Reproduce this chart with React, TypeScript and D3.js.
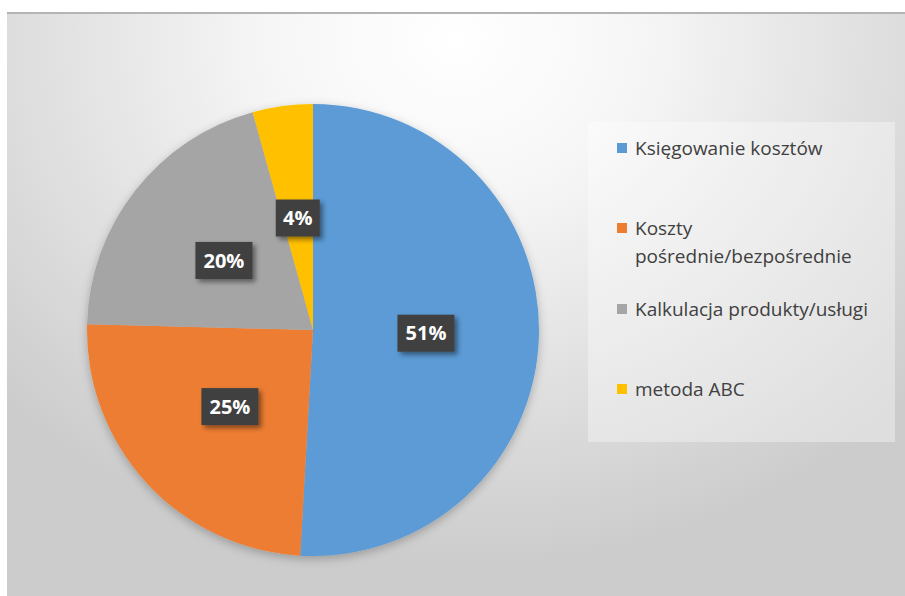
import React from "react";
import * as d3 from "d3";

const categories = [
  "Księgowanie kosztów",
  "Koszty pośrednie/bezpośrednie",
  "Kalkulacja produkty/usługi",
  "metoda ABC",
];
const values = [50.9, 24.5, 20.3, 4.3];
const labels = ["51%", "25%", "20%", "4%"];
const legendLines = [["Księgowanie kosztów"], ["Koszty", "pośrednie/bezpośrednie"], ["Kalkulacja produkty/usługi"], ["metoda ABC"]];
const colors = ["#5B9BD5", "#ED7D31", "#A5A5A5", "#FFC000"];

const W = 905;
const H = 596;

export default function App() {
  const cx = 313;
  const cy = 330;
  const r = 226;
  const data = categories.map((c, i) => ({ c, v: values[i], i }));
  const pie = d3.pie<any>().value((d) => d.v).sort(null);
  const arcs = pie(data);
  const arc = d3.arc<any>().innerRadius(0).outerRadius(r);
  const labelArc = d3.arc<any>().innerRadius(0).outerRadius(r);

  const legendY = d3.scaleOrdinal<number, number>().domain([0, 1, 2, 3]).range([148, 228, 309, 389]);
  const lineH = 28;

  return (
    <svg width={W} height={H} style={{ position: "absolute", left: 0, top: 0 }}>
      <defs>
        <radialGradient id="bg" gradientUnits="userSpaceOnUse" cx={455} cy={40} r={620} gradientTransform="translate(455 40) scale(1 0.85) translate(-455 -40)">
          <stop offset="0" stopColor="#ffffff" />
          <stop offset="0.3" stopColor="#f6f6f6" />
          <stop offset="1" stopColor="#cccccc" />
        </radialGradient>
        <filter id="pieShadow" x="-20%" y="-20%" width="140%" height="140%">
          <feDropShadow dx="0" dy="3" stdDeviation="5" floodColor="#000" floodOpacity="0.25" />
        </filter>
        <filter id="boxShadow" x="-30%" y="-30%" width="170%" height="170%">
          <feDropShadow dx="3" dy="3" stdDeviation="2.5" floodColor="#000" floodOpacity="0.45" />
        </filter>
      </defs>
      <rect x={7} y={12} width={W - 7} height={H - 12} fill="url(#bg)" />
      <line x1={7} x2={W} y1={13} y2={13} stroke="#b4b4b4" strokeWidth={2} />

      <g transform={`translate(${cx},${cy})`} filter="url(#pieShadow)">
        {arcs.map((a, i) => (
          <path key={i} d={arc(a) as string} fill={colors[i]} />
        ))}
      </g>

      <g transform={`translate(${cx},${cy})`}>
        {arcs.map((a, i) => {
          const [x, y] = labelArc.centroid(a);
          const w = labels[i].length * 13 + 18;
          const h = 37;
          return (
            <g key={i} transform={`translate(${x},${y})`}>
              <rect x={-w / 2} y={-h / 2} width={w} height={h} fill="#404040" filter="url(#boxShadow)" />
              <text
                textAnchor="middle"
                dy="0.36em"
                fill="#ffffff"
                fontFamily="'Open Sans', sans-serif"
                fontWeight="bold"
                fontSize={20}
              >
                {labels[i]}
              </text>
            </g>
          );
        })}
      </g>

      <rect x={588} y={122} width={307} height={320} fill="#ffffff" fillOpacity={0.35} />
      {legendLines.map((lines, i) => (
        <g key={i}>
          <rect x={617} y={legendY(i) - 5} width={10} height={10} fill={colors[i]} />
          {lines.map((t, j) => (
            <text
              key={j}
              x={635}
              y={legendY(i) + j * lineH}
              dy="0.35em"
              fill="#404040"
              fontFamily="'Open Sans', sans-serif"
              fontSize={19}
            >
              {t}
            </text>
          ))}
        </g>
      ))}
    </svg>
  );
}
